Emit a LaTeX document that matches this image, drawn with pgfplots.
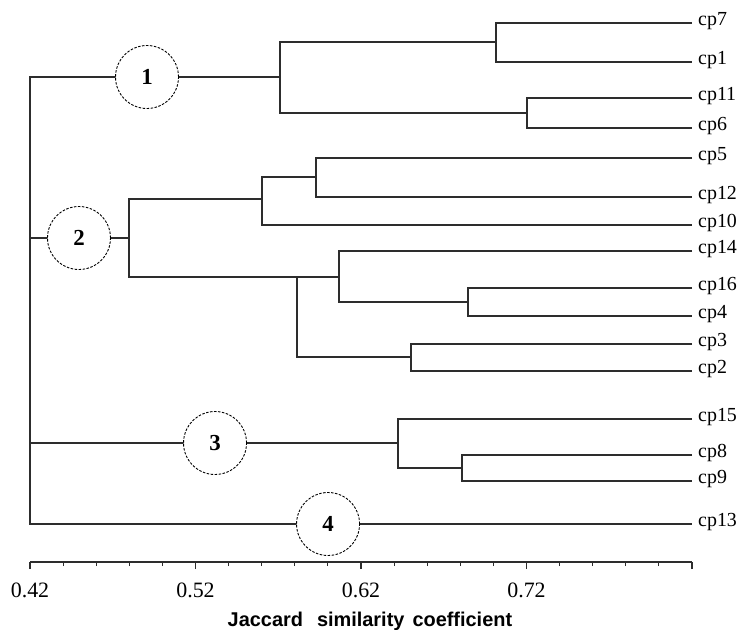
\documentclass[border=0pt]{standalone}
\usepackage{pgfplots}
\pgfplotsset{compat=1.18}
\usepackage{fontspec}
\setmainfont{Liberation Serif}
\setsansfont{Liberation Sans}
\definecolor{ln}{RGB}{45,45,45}
\newcommand{\leaffont}{\fontsize{20}{24}\selectfont}
\newcommand{\numfont}{\fontsize{23}{26}\selectfont\bfseries}
\tikzset{
  circ/.style={circle, draw=black, dash pattern=on 2.5bp off 1.5bp, line width=0.9bp,
               fill=white, minimum size=63bp, inner sep=0pt, font=\numfont},
  leaf/.style={anchor=mid west, inner sep=0pt, xshift=6bp, font=\leaffont},
}
\pgfplotsset{br/.style={ln, solid, line width=1.8bp, mark=none}}
\begin{document}
\begin{tikzpicture}
\useasboundingbox (0,0) rectangle (743bp,630bp);
% dendrogram (x: Jaccard similarity, y: leaf row position from top)
\begin{axis}[
  at={(0,0)}, anchor=south west,
  scale only axis, width=743bp, height=630bp,
  xmin=0.40187, xmax=0.85082,
  ymin=0, ymax=630, y dir=reverse,
  hide axis, clip=false,
]
% root
\addplot[br] coordinates {(0.5711,77) (0.42,77) (0.42,524) (0.82,524)};
\addplot[br] coordinates {(0.42,238) (0.4798,238)};
\addplot[br] coordinates {(0.42,443) (0.6424,443)};
% cluster 1
\addplot[br] coordinates {(0.7016,42) (0.5711,42) (0.5711,113) (0.7203,113)};
\addplot[br] coordinates {(0.82,23) (0.7016,23) (0.7016,62) (0.82,62)};
\addplot[br] coordinates {(0.82,98) (0.7203,98) (0.7203,128) (0.82,128)};
% cluster 2
\addplot[br] coordinates {(0.5602,199) (0.4798,199) (0.4798,277) (0.6067,277)};
\addplot[br] coordinates {(0.5928,177) (0.5602,177) (0.5602,225) (0.82,225)};
\addplot[br] coordinates {(0.82,158) (0.5928,158) (0.5928,197) (0.82,197)};
\addplot[br] coordinates {(0.5813,277) (0.5813,357) (0.6502,357)};
\addplot[br] coordinates {(0.82,251) (0.6067,251) (0.6067,302) (0.6847,302)};
\addplot[br] coordinates {(0.82,288) (0.6847,288) (0.6847,316) (0.82,316)};
\addplot[br] coordinates {(0.82,344) (0.6502,344) (0.6502,371) (0.82,371)};
% cluster 3
\addplot[br] coordinates {(0.82,419) (0.6424,419) (0.6424,468) (0.6810,468)};
\addplot[br] coordinates {(0.82,455) (0.6810,455) (0.6810,481) (0.82,481)};
% cluster circles
\node[circ] at (axis cs:0.4907,77) {1};
\node[circ] at (axis cs:0.4496,238) {2};
\node[circ] at (axis cs:0.5318,443) {3};
\node[circ] at (axis cs:0.6001,524) {4};
% leaf labels
\node[leaf] at (axis cs:0.82,23) {cp7};
\node[leaf] at (axis cs:0.82,62) {cp1};
\node[leaf] at (axis cs:0.82,98) {cp11};
\node[leaf] at (axis cs:0.82,128) {cp6};
\node[leaf] at (axis cs:0.82,158) {cp5};
\node[leaf] at (axis cs:0.82,197) {cp12};
\node[leaf] at (axis cs:0.82,225) {cp10};
\node[leaf] at (axis cs:0.82,251) {cp14};
\node[leaf] at (axis cs:0.82,288) {cp16};
\node[leaf] at (axis cs:0.82,316) {cp4};
\node[leaf] at (axis cs:0.82,344) {cp3};
\node[leaf] at (axis cs:0.82,371) {cp2};
\node[leaf] at (axis cs:0.82,419) {cp15};
\node[leaf] at (axis cs:0.82,455) {cp8};
\node[leaf] at (axis cs:0.82,481) {cp9};
\node[leaf] at (axis cs:0.82,524) {cp13};
% axis title
\node[anchor=base, inner sep=0pt, font=\fontsize{20}{22}\selectfont\sffamily\bfseries]
  at (axis cs:0.6254,626) {Jaccard\hspace{14bp}similarity\hspace{8bp}coefficient};
\end{axis}
% similarity scale
\begin{axis}[
  at={(30bp,68bp)}, anchor=south west,
  scale only axis, width=662bp, height=1bp,
  xmin=0.42, xmax=0.82, ymin=0, ymax=1,
  axis x line*=bottom, axis y line=none,
  x axis line style={-, ln, line width=1.8bp},
  xtick={0.42,0.52,0.62,0.72,0.82},
  xticklabels={0.42,0.52,0.62,0.72,{}},
  minor tick num=4,
  tick align=outside,
  major tick length=7bp, minor tick length=4bp,
  every tick/.style={ln, line width=1.3bp},
  every minor tick/.style={ln, line width=1.1bp},
  xticklabel style={font=\fontsize{22}{22}\selectfont, yshift=-10bp},
  /pgf/number format/assume math mode=true,
]
\addplot[draw=none] coordinates {(0.42,0) (0.82,0)};
\end{axis}
\end{tikzpicture}
\end{document}
